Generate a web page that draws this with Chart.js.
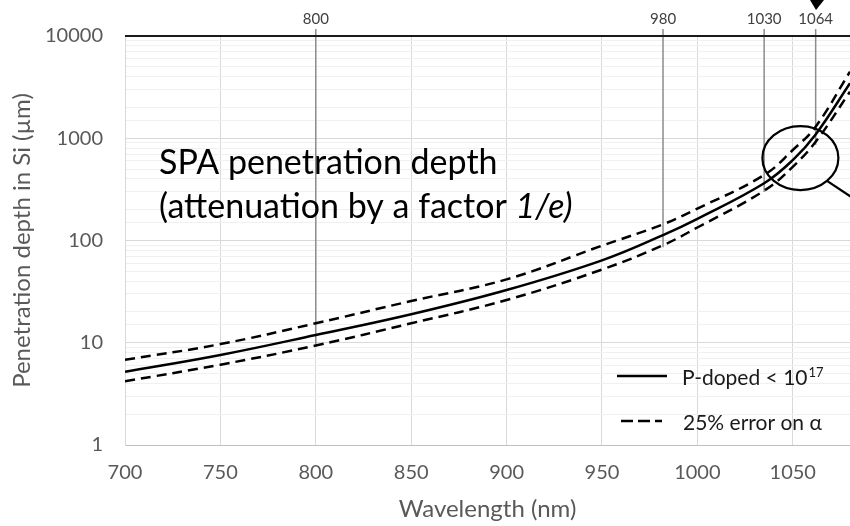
<!DOCTYPE html>
<html>
<head>
<meta charset="utf-8">
<script src="https://cdn.jsdelivr.net/npm/chart.js@4.4.0/dist/chart.umd.min.js"></script>
<style>
  html, body { margin: 0; padding: 0; background: #fff; }
</style>
</head>
<body>
<canvas id="mainChart" width="850" height="526"></canvas>
<script>
// values (wavelength in nm, depth in um)
var wavelengths = [700, 750, 800, 850, 900, 950, 982, 1000, 1035, 1050, 1062, 1080];
var depthPdoped = [5.2, 7.6, 11.9, 19.0, 32.8, 64, 113, 163, 363, 612, 1090, 3450];
var depthHigh = [6.8, 9.7, 15.5, 25.6, 41.7, 89, 144, 205, 437, 767, 1297, 4480];
var depthLow = [4.2, 6.1, 9.4, 15.5, 26.2, 52, 90, 134, 307, 526, 925, 2850];

// vertical marker lines at the top
var markerPos = [800, 982, 1035, 1062];
var markerLabels = ['800', '980', '1030', '1064'];
var markerEnds = [9.1, 86, 298, 860];

var xTicks = [700, 750, 800, 850, 900, 950, 1000, 1050];

var ctx = document.getElementById('mainChart'),
  myChart;

function points (ys) {
  return wavelengths.map(function (w, i) { return { x: w, y: ys[i] }; });
}

function isDecade (v) {
  var l = Math.log10(v);
  return Math.abs(l - Math.round(l)) < 1e-9;
}

var overlay = {
  id: 'overlay',
  beforeDatasetsDraw: function (chart) {
    var c = chart.ctx, xs = chart.scales.x, ys = chart.scales.y, a = chart.chartArea;
    c.save();
    c.strokeStyle = '#8c8c8c';
    c.lineWidth = 1.5;
    markerPos.forEach(function (w, i) {
      var px = xs.getPixelForValue(w);
      c.beginPath();
      c.moveTo(px, 29);
      c.lineTo(px, ys.getPixelForValue(markerEnds[i]));
      c.stroke();
    });
    c.strokeStyle = '#1a1a1a';
    c.lineWidth = 2;
    c.beginPath();
    c.moveTo(a.left, a.top);
    c.lineTo(a.right, a.top);
    c.stroke();
    c.restore();
  },
  afterDraw: function (chart) {
    var c = chart.ctx, xs = chart.scales.x, ys = chart.scales.y;
    c.save();

    // marker labels
    c.fillStyle = '#404040';
    c.font = '15px Lato';
    c.textAlign = 'center';
    c.textBaseline = 'middle';
    markerPos.forEach(function (w, i) {
      c.fillText(markerLabels[i], xs.getPixelForValue(w), 19);
    });

    // annotation text
    c.fillStyle = '#000';
    c.textAlign = 'left';
    c.textBaseline = 'alphabetic';
    c.font = '34px Lato';
    c.fillText('SPA penetration depth', 159, 174);
    var t = '(attenuation by a factor ';
    c.fillText(t, 159, 218);
    var w0 = c.measureText(t).width;
    c.font = 'italic 34px Lato';
    c.fillText('1/e)', 159 + w0, 218);

    // circle around 1064 crossing
    var cx = xs.getPixelForValue(1054), cy = ys.getPixelForValue(640);
    c.strokeStyle = '#000';
    c.lineWidth = 2.2;
    c.beginPath();
    c.ellipse(cx, cy, 38, 32, 0, 0, Math.PI * 2);
    c.stroke();
    c.beginPath();
    c.moveTo(cx + 27, cy + 23);
    c.lineTo(cx + 60, cy + 45);
    c.stroke();

    // arrow head at the top
    c.fillStyle = '#000';
    c.beginPath();
    c.moveTo(810, 0);
    c.lineTo(824, 0);
    c.lineTo(816, 10);
    c.closePath();
    c.fill();

    // legend
    c.lineWidth = 2.5;
    c.beginPath();
    c.moveTo(617, 376);
    c.lineTo(667, 376);
    c.stroke();
    c.setLineDash([12, 5]);
    c.beginPath();
    c.moveTo(621, 421);
    c.lineTo(662, 421);
    c.stroke();
    c.setLineDash([]);

    c.fillStyle = '#1a1a1a';
    c.font = '21px Lato';
    c.textBaseline = 'alphabetic';
    var l1 = 'P-doped < 10';
    c.fillText(l1, 682, 385);
    var lw = c.measureText(l1).width;
    c.font = '13px Lato';
    c.fillText('17', 682 + lw + 1, 377);
    c.font = '21px Lato';
    c.fillText('25% error on \u03b1', 683, 430);

    c.restore();
  }
};

function draw () {
  myChart = new Chart(ctx, {
    type: 'line',
    data: {
      datasets: [{
        label: 'P-doped < 10^17',
        data: points(depthPdoped),
        borderColor: '#000',
        borderWidth: 2.5
      }, {
        label: '25% error on alpha (high)',
        data: points(depthHigh),
        borderColor: '#000',
        borderWidth: 2.5,
        borderDash: [10, 6]
      }, {
        label: '25% error on alpha (low)',
        data: points(depthLow),
        borderColor: '#000',
        borderWidth: 2.5,
        borderDash: [10, 6]
      }]
    },
    options: {
      responsive: false,
      animation: false,
      layout: { padding: { top: 36, right: 0, left: 0, bottom: 0 } },
      elements: {
        point: { radius: 0 },
        line: { tension: 0.4, fill: false }
      },
      plugins: {
        legend: { display: false },
        tooltip: { enabled: false }
      },
      scales: {
        x: {
          type: 'linear',
          min: 700,
          max: 1080,
          afterBuildTicks: function (axis) {
            axis.ticks = xTicks.map(function (v) { return { value: v }; });
          },
          afterFit: function (axis) { axis.height = 81; },
          grid: { color: '#d9d9d9', drawTicks: false },
          border: { color: '#bfbfbf' },
          ticks: {
            color: '#595959',
            font: { size: 20 },
            padding: 16,
            maxRotation: 0,
            callback: function (v) { return String(v); }
          },
          title: {
            display: true,
            text: 'Wavelength (nm)',
            color: '#595959',
            font: { size: 24 },
            padding: { top: 0, bottom: 2 }
          }
        },
        y: {
          type: 'logarithmic',
          min: 1,
          max: 10000,
          afterFit: function (axis) { axis.width = 125; },
          grid: {
            drawTicks: false,
            color: function (c) {
              return c.tick && isDecade(c.tick.value) ? '#d9d9d9' : '#f0f0f0';
            }
          },
          border: { color: '#d9d9d9' },
          ticks: {
            color: '#595959',
            font: { size: 20 },
            padding: 22,
            autoSkip: false,
            callback: function (v) { return isDecade(v) ? String(v) : ''; }
          },
          title: {
            display: true,
            text: 'Penetration depth in Si (\u00b5m)',
            color: '#595959',
            font: { size: 24 },
            padding: { top: 8, bottom: 0 }
          }
        }
      }
    },
    plugins: [overlay]
  });
}

Chart.defaults.font.family = 'Lato';
if (document.fonts && document.fonts.load) {
  Promise.all([
    document.fonts.load('20px Lato'),
    document.fonts.load('italic 34px Lato')
  ]).then(draw, draw);
} else {
  draw();
}
</script>
</body>
</html>
